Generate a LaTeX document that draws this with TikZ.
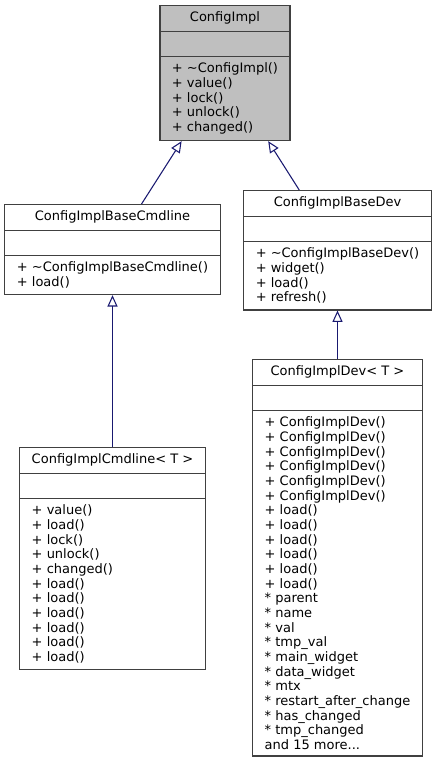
\documentclass[tikz,border=0pt]{standalone}
\usepackage{fontspec}
\setmainfont{DejaVu Sans}
\usetikzlibrary{shapes.multipart,arrows.meta}
\definecolor{edgeblue}{HTML}{191970}
\definecolor{boxgray}{HTML}{404040}
\definecolor{basegray}{HTML}{BFBFBF}
\tikzset{
    cls/.style={draw=boxgray, line width=0.9pt, fill=white, anchor=north,
        rectangle split, rectangle split parts=3,
        rectangle split part align={center,left,left},
        inner xsep=9pt, inner ysep=4.4pt, align=left,
        font=\fontsize{9.75}{11}\selectfont},
    inherit/.style={draw=edgeblue, line width=0.8pt,
        -{Triangle[open,length=8.5pt,width=7.5pt]}}
}

\begin{document}
\begin{tikzpicture}[x=0.75pt, y=-0.75pt]
    \useasboundingbox (0,0) rectangle (437,764);
    \node[cls, fill=basegray, minimum width=96pt] (impl) at (225,5)
        {ConfigImpl \nodepart{two}\vphantom{Cg}
         \nodepart{three}+ \textasciitilde ConfigImpl()\\+ value()\\+ lock()\\+ unlock()\\+ changed()};
    \node[cls, minimum width=161.25pt] (cmdbase) at (112.5,204)
        {ConfigImplBaseCmdline \nodepart{two}\vphantom{Cg}
         \nodepart{three}+ \textasciitilde ConfigImplBaseCmdline()\\+ load()};
    \node[cls, minimum width=140.25pt] (devbase) at (337.5,190)
        {ConfigImplBaseDev \nodepart{two}\vphantom{Cg}
         \nodepart{three}+ \textasciitilde ConfigImplBaseDev()\\+ widget()\\+ load()\\+ refresh()};
    \node[cls, minimum width=137.25pt] (cmd) at (112.5,447)
        {ConfigImplCmdline< T > \nodepart{two}\vphantom{Cg}
         \nodepart{three}+ value()\\+ load()\\+ lock()\\+ unlock()\\+ changed()\\+ load()\\+ load()\\+ load()\\+ load()\\+ load()\\+ load()};
    \node[cls, minimum width=126.75pt] (dev) at (337.5,359)
        {ConfigImplDev< T > \nodepart{two}\vphantom{Cg}
         \nodepart{three}+ ConfigImplDev()\\+ ConfigImplDev()\\+ ConfigImplDev()\\+ ConfigImplDev()\\+ ConfigImplDev()\\+ ConfigImplDev()\\+ load()\\+ load()\\+ load()\\+ load()\\+ load()\\+ load()\\* parent\\* name\\* val\\* tmp\_val\\* main\_widget\\* data\_widget\\* mtx\\* restart\_after\_change\\* has\_changed\\* tmp\_changed\\and 15 more...};
    \draw[inherit] (cmdbase) -- (impl);
    \draw[inherit] (devbase) -- (impl);
    \draw[inherit] (cmd) -- (cmdbase);
    \draw[inherit] (dev) -- (devbase);
\end{tikzpicture}
\end{document}
